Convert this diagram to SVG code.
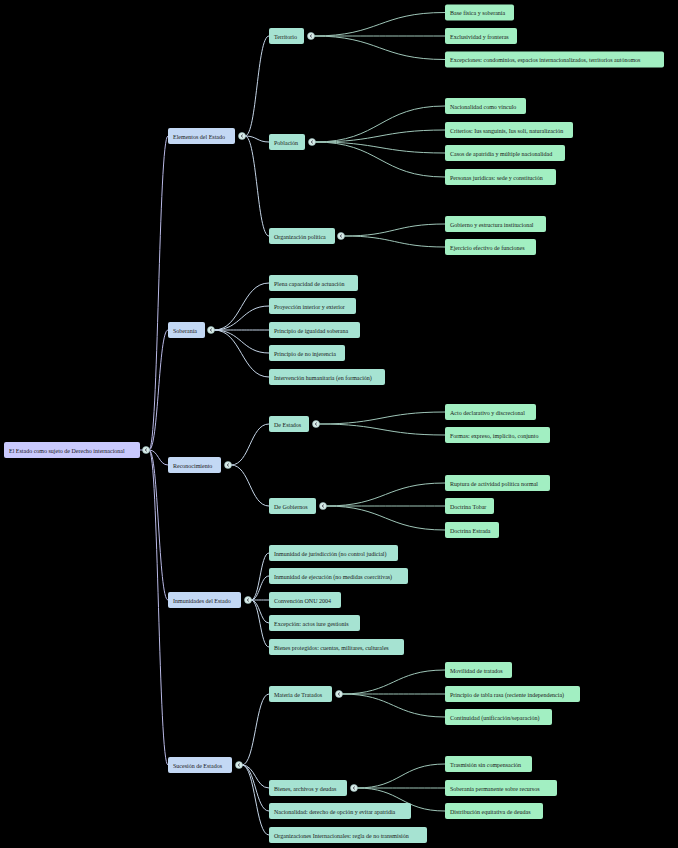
<svg xmlns="http://www.w3.org/2000/svg" width="678" height="848" viewBox="0 0 678 848">
<defs>
<style>
text{font-family:"Liberation Serif","Times New Roman",serif;font-size:6px;fill:#1a1a1a}
.r{fill:#c9c9fd}
.l1{fill:#c3d8f4}
.l2{fill:#a6e3d2}
.l3{fill:#a2efc2}
.k0{fill:none;stroke:#b9b9e6;stroke-width:1}
.k1{fill:none;stroke:#c4d4e6;stroke-width:1}
.k2{fill:none;stroke:#9fc6b8;stroke-width:1}
.c circle{fill:#d8ece8;stroke:#9bb;stroke-width:0.6}
.c polyline{fill:none;stroke:#334;stroke-width:0.7}
</style>
</defs>
<rect width="678" height="848" fill="#000"/>
<g id="connectors">
<path class="k0" d="M140 450H146"/>
<path class="k0" d="M149 450C158.5 450 158.5 136 168 136"/>
<path class="k0" d="M149 450C158.5 450 158.5 330 168 330"/>
<path class="k0" d="M149 450C158.5 450 158.5 465 168 465"/>
<path class="k0" d="M149 450C158.5 450 158.5 600 168 600"/>
<path class="k0" d="M149 450C158.5 450 158.5 765 168 765"/>
<path class="k1" d="M245 136C257 136 257 36 269 36"/>
<path class="k1" d="M245 136C257 136 257 142 269 142"/>
<path class="k1" d="M245 136C257 136 257 236 269 236"/>
<path class="k1" d="M214 330C241.5 330 241.5 283 269 283"/>
<path class="k1" d="M214 330C241.5 330 241.5 306 269 306"/>
<path class="k1" d="M214 330C241.5 330 241.5 330 269 330"/>
<path class="k1" d="M214 330C241.5 330 241.5 353 269 353"/>
<path class="k1" d="M214 330C241.5 330 241.5 377 269 377"/>
<path class="k1" d="M231 465C250 465 250 424 269 424"/>
<path class="k1" d="M231 465C250 465 250 506 269 506"/>
<path class="k1" d="M251 600C260 600 260 553 269 553"/>
<path class="k1" d="M251 600C260 600 260 576 269 576"/>
<path class="k1" d="M251 600C260 600 260 600 269 600"/>
<path class="k1" d="M251 600C260 600 260 623 269 623"/>
<path class="k1" d="M251 600C260 600 260 647 269 647"/>
<path class="k1" d="M242 765C255.5 765 255.5 694 269 694"/>
<path class="k1" d="M242 765C255.5 765 255.5 788 269 788"/>
<path class="k1" d="M242 765C255.5 765 255.5 811 269 811"/>
<path class="k1" d="M242 765C255.5 765 255.5 835 269 835"/>
<path class="k2" d="M314 36C379.5 36 379.5 12.5 445 12.5"/>
<path class="k2" d="M314 36C379.5 36 379.5 36 445 36"/>
<path class="k2" d="M314 36C379.5 36 379.5 59.5 445 59.5"/>
<path class="k2" d="M315 142C380 142 380 106 445 106"/>
<path class="k2" d="M315 142C380 142 380 130 445 130"/>
<path class="k2" d="M315 142C380 142 380 153 445 153"/>
<path class="k2" d="M315 142C380 142 380 177 445 177"/>
<path class="k2" d="M344 236C394.5 236 394.5 224 445 224"/>
<path class="k2" d="M344 236C394.5 236 394.5 247 445 247"/>
<path class="k2" d="M319 424C382 424 382 412 445 412"/>
<path class="k2" d="M319 424C382 424 382 435 445 435"/>
<path class="k2" d="M326 506C385.5 506 385.5 483 445 483"/>
<path class="k2" d="M326 506C385.5 506 385.5 506 445 506"/>
<path class="k2" d="M326 506C385.5 506 385.5 530 445 530"/>
<path class="k2" d="M342 694C393.5 694 393.5 670 445 670"/>
<path class="k2" d="M342 694C393.5 694 393.5 694 445 694"/>
<path class="k2" d="M342 694C393.5 694 393.5 717 445 717"/>
<path class="k2" d="M357 788C401 788 401 764 445 764"/>
<path class="k2" d="M357 788C401 788 401 788 445 788"/>
<path class="k2" d="M357 788C401 788 401 811 445 811"/>
</g>
<g id="root"><rect class="r" x="4" y="442" width="136" height="16" rx="2"/><text x="9" y="452.5">El Estado como sujeto de Derecho internacional</text>
<g class="c"><circle cx="146" cy="450" r="3.5"/><polyline points="147,448.5 145,450 147,451.5"/></g></g>
<g id="elementos"><rect class="l1" x="168" y="128" width="67" height="16" rx="2"/><text x="173" y="138.5">Elementos del Estado</text>
<g class="c"><circle cx="242" cy="136" r="3.5"/><polyline points="243,134.5 241,136 243,137.5"/></g></g>
<g id="soberania"><rect class="l1" x="168" y="322" width="37" height="16" rx="2"/><text x="173" y="332.5">Soberanía</text>
<g class="c"><circle cx="211" cy="330" r="3.5"/><polyline points="212,328.5 210,330 212,331.5"/></g></g>
<g id="reconocimiento"><rect class="l1" x="168" y="457" width="53" height="16" rx="2"/><text x="173" y="467.5">Reconocimiento</text>
<g class="c"><circle cx="228" cy="465" r="3.5"/><polyline points="229,463.5 227,465 229,466.5"/></g></g>
<g id="inmunidades"><rect class="l1" x="168" y="592" width="73" height="16" rx="2"/><text x="173" y="602.5">Inmunidades del Estado</text>
<g class="c"><circle cx="248" cy="600" r="3.5"/><polyline points="249,598.5 247,600 249,601.5"/></g></g>
<g id="sucesion"><rect class="l1" x="168" y="757" width="64" height="16" rx="2"/><text x="173" y="767.5">Sucesión de Estados</text>
<g class="c"><circle cx="239" cy="765" r="3.5"/><polyline points="240,763.5 238,765 240,766.5"/></g></g>
<g id="territorio"><rect class="l2" x="269" y="28" width="35" height="16" rx="2"/><text x="274" y="38.5">Territorio</text>
<g class="c"><circle cx="311" cy="36" r="3.5"/><polyline points="312,34.5 310,36 312,37.5"/></g></g>
<g id="poblacion"><rect class="l2" x="269" y="134" width="36" height="16" rx="2"/><text x="274" y="144.5">Población</text>
<g class="c"><circle cx="312" cy="142" r="3.5"/><polyline points="313,140.5 311,142 313,143.5"/></g></g>
<g id="organizacion"><rect class="l2" x="269" y="228" width="66" height="16" rx="2"/><text x="274" y="238.5">Organización política</text>
<g class="c"><circle cx="341" cy="236" r="3.5"/><polyline points="342,234.5 340,236 342,237.5"/></g></g>
<g id="plena"><rect class="l2" x="269" y="275" width="89" height="16" rx="2"/><text x="274" y="285.5">Plena capacidad de actuación</text></g>
<g id="proyeccion"><rect class="l2" x="269" y="298" width="87" height="16" rx="2"/><text x="274" y="308.5">Proyección interior y exterior</text></g>
<g id="igualdad"><rect class="l2" x="269" y="322" width="91" height="16" rx="2"/><text x="274" y="332.5">Principio de igualdad soberana</text></g>
<g id="injerencia"><rect class="l2" x="269" y="345" width="76" height="16" rx="2"/><text x="274" y="355.5">Principio de no injerencia</text></g>
<g id="intervencion"><rect class="l2" x="269" y="369" width="116" height="16" rx="2"/><text x="274" y="379.5">Intervención humanitaria (en formación)</text></g>
<g id="deestados"><rect class="l2" x="269" y="416" width="40" height="16" rx="2"/><text x="274" y="426.5">De Estados</text>
<g class="c"><circle cx="316" cy="424" r="3.5"/><polyline points="317,422.5 315,424 317,425.5"/></g></g>
<g id="degobiernos"><rect class="l2" x="269" y="498" width="47" height="16" rx="2"/><text x="274" y="508.5">De Gobiernos</text>
<g class="c"><circle cx="323" cy="506" r="3.5"/><polyline points="324,504.5 322,506 324,507.5"/></g></g>
<g id="jurisdiccion"><rect class="l2" x="269" y="545" width="129" height="16" rx="2"/><text x="274" y="555.5">Inmunidad de jurisdicción (no control judicial)</text></g>
<g id="ejecucion"><rect class="l2" x="269" y="568" width="139" height="16" rx="2"/><text x="274" y="578.5">Inmunidad de ejecución (no medidas coercitivas)</text></g>
<g id="convencion"><rect class="l2" x="269" y="592" width="72" height="16" rx="2"/><text x="274" y="602.5">Convención ONU 2004</text></g>
<g id="excepcion"><rect class="l2" x="269" y="615" width="91" height="16" rx="2"/><text x="274" y="625.5">Excepción: actos iure gestionis</text></g>
<g id="bienesprot"><rect class="l2" x="269" y="639" width="135" height="16" rx="2"/><text x="274" y="649.5">Bienes protegidos: cuentas, militares, culturales</text></g>
<g id="materia"><rect class="l2" x="269" y="686" width="63" height="16" rx="2"/><text x="274" y="696.5">Materia de Tratados</text>
<g class="c"><circle cx="339" cy="694" r="3.5"/><polyline points="340,692.5 338,694 340,695.5"/></g></g>
<g id="bienesarch"><rect class="l2" x="269" y="780" width="78" height="16" rx="2"/><text x="274" y="790.5">Bienes, archivos y deudas</text>
<g class="c"><circle cx="354" cy="788" r="3.5"/><polyline points="355,786.5 353,788 355,789.5"/></g></g>
<g id="nacionalidadsuc"><rect class="l2" x="269" y="803" width="142" height="16" rx="2"/><text x="274" y="813.5">Nacionalidad: derecho de opción y evitar apatridia</text></g>
<g id="organizaciones"><rect class="l2" x="269" y="827" width="158" height="16" rx="2"/><text x="274" y="837.5">Organizaciones Internacionales: regla de no transmisión</text></g>
<g id="base"><rect class="l3" x="445" y="4.5" width="69" height="16" rx="2"/><text x="450" y="15">Base física y soberanía</text></g>
<g id="exclusividad"><rect class="l3" x="445" y="28" width="72" height="16" rx="2"/><text x="450" y="38.5">Exclusividad y fronteras</text></g>
<g id="excepciones"><rect class="l3" x="445" y="51.5" width="219" height="16" rx="2"/><text x="450" y="62">Excepciones: condominios, espacios internacionalizados, territorios autónomos</text></g>
<g id="vinculo"><rect class="l3" x="445" y="98" width="81" height="16" rx="2"/><text x="450" y="108.5">Nacionalidad como vínculo</text></g>
<g id="criterios"><rect class="l3" x="445" y="122" width="128" height="16" rx="2"/><text x="450" y="132.5">Criterios: Ius sanguinis, Ius soli, naturalización</text></g>
<g id="apatridia"><rect class="l3" x="445" y="145" width="120" height="16" rx="2"/><text x="450" y="155.5">Casos de apatridia y múltiple nacionalidad</text></g>
<g id="personas"><rect class="l3" x="445" y="169" width="111" height="16" rx="2"/><text x="450" y="179.5">Personas jurídicas: sede y constitución</text></g>
<g id="gobierno"><rect class="l3" x="445" y="216" width="101" height="16" rx="2"/><text x="450" y="226.5">Gobierno y estructura institucional</text></g>
<g id="ejercicio"><rect class="l3" x="445" y="239" width="91" height="16" rx="2"/><text x="450" y="249.5">Ejercicio efectivo de funciones</text></g>
<g id="acto"><rect class="l3" x="445" y="404" width="91" height="16" rx="2"/><text x="450" y="414.5">Acto declarativo y discrecional</text></g>
<g id="formas"><rect class="l3" x="445" y="427" width="105" height="16" rx="2"/><text x="450" y="437.5">Formas: expreso, implícito, conjunto</text></g>
<g id="ruptura"><rect class="l3" x="445" y="475" width="105" height="16" rx="2"/><text x="450" y="485.5">Ruptura de actividad política normal</text></g>
<g id="tobar"><rect class="l3" x="445" y="498" width="49" height="16" rx="2"/><text x="450" y="508.5">Doctrina Tobar</text></g>
<g id="estrada"><rect class="l3" x="445" y="522" width="54" height="16" rx="2"/><text x="450" y="532.5">Doctrina Estrada</text></g>
<g id="movilidad"><rect class="l3" x="445" y="662" width="67" height="16" rx="2"/><text x="450" y="672.5">Movilidad de tratados</text></g>
<g id="tablarasa"><rect class="l3" x="445" y="686" width="135" height="16" rx="2"/><text x="450" y="696.5">Principio de tabla rasa (reciente independencia)</text></g>
<g id="continuidad"><rect class="l3" x="445" y="709" width="107" height="16" rx="2"/><text x="450" y="719.5">Continuidad (unificación/separación)</text></g>
<g id="trasmision"><rect class="l3" x="445" y="756" width="87" height="16" rx="2"/><text x="450" y="766.5">Trasmisión sin compensación</text></g>
<g id="recursos"><rect class="l3" x="445" y="780" width="112" height="16" rx="2"/><text x="450" y="790.5">Soberanía permanente sobre recursos</text></g>
<g id="deudas"><rect class="l3" x="445" y="803" width="98" height="16" rx="2"/><text x="450" y="813.5">Distribución equitativa de deudas</text></g>
</svg>
